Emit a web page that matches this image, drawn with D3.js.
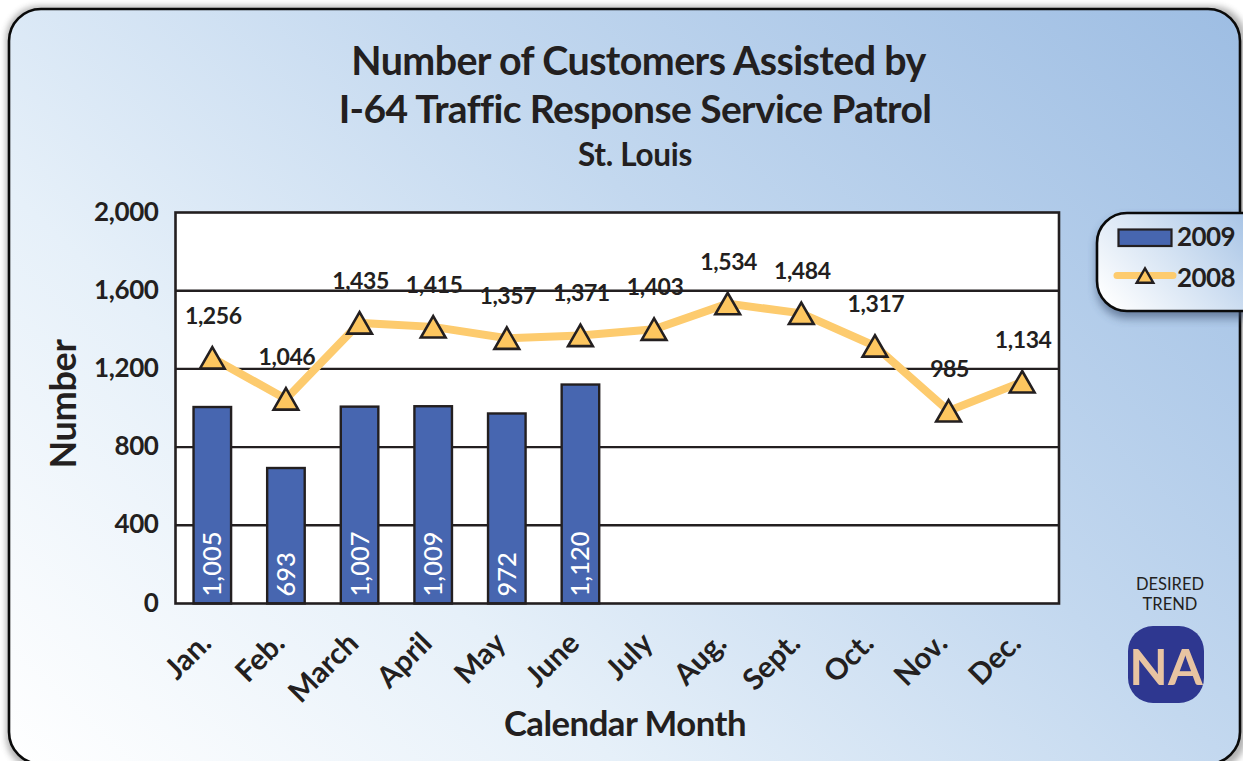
<!DOCTYPE html>
<html><head><meta charset="utf-8">
<script src="https://cdn.jsdelivr.net/npm/d3@7/dist/d3.min.js"></script>
<style>
html,body{margin:0;padding:0;background:#fff;overflow:hidden}
svg{display:block}
text{font-family:"Lato","Open Sans",sans-serif;fill:#231f20}
</style></head><body>
<svg id="c" width="1243" height="761"></svg>
<script>
const months=["Jan.","Feb.","March","April","May","June","July","Aug.","Sept.","Oct.","Nov.","Dec."];
const values2009=[1005,693,1007,1009,972,1120];
const values2008=[1256,1046,1435,1415,1357,1371,1403,1534,1484,1317,985,1134];
const yTicks=[0,400,800,1200,1600,2000];
const titleLines=["Number of Customers Assisted by","I-64 Traffic Response Service Patrol"];
const subtitle="St. Louis";
const xTitle="Calendar Month", yTitle="Number";
const legendLabels=["2009","2008"];
const trendLabels=["DESIRED","TREND"], trendValue="NA";

const svg=d3.select("#c");
const defs=svg.append("defs");
function grad(id,x1,y1,x2,y2,stops){
  const g=defs.append("linearGradient").attr("id",id).attr("gradientUnits","userSpaceOnUse")
   .attr("x1",x1).attr("y1",y1).attr("x2",x2).attr("y2",y2);
  stops.forEach(s=>g.append("stop").attr("offset",s[0]).attr("stop-color",s[1]));
}
grad("bg",150,900,1110,-120,[[0,"#ffffff"],[0.3,"#e6f0f9"],[0.6,"#c3d8ef"],[1,"#9dbde3"]]);
grad("lg",1110,310,1230,200,[[0,"#ffffff"],[0.5,"#d5e3f3"],[1,"#a9c5e6"]]);
const blur=defs.append("filter").attr("id","sh").attr("x","-20%").attr("y","-20%").attr("width","140%").attr("height","140%");
blur.append("feGaussianBlur").attr("stdDeviation",5);
const blur2=defs.append("filter").attr("id","sh2").attr("x","-5%").attr("y","-5%").attr("width","110%").attr("height","110%");
blur2.append("feGaussianBlur").attr("stdDeviation",3);

// panel
svg.append("rect").attr("x",6).attr("y",6).attr("width",1240).attr("height",764).attr("rx",33)
  .attr("fill","#555").attr("opacity",.45).attr("filter","url(#sh2)");
svg.append("rect").attr("x",9).attr("y",9).attr("width",1231).attr("height",755).attr("rx",32)
  .attr("fill","url(#bg)").attr("stroke","#0a0a0a").attr("stroke-width",2.6);

// titles
svg.append("text").attr("x",638.5).attr("y",75).attr("text-anchor","middle").attr("font-size",39.4).attr("font-weight",700).attr("letter-spacing",-.6).text(titleLines[0]);
svg.append("text").attr("x",635).attr("y",123).attr("text-anchor","middle").attr("font-size",39).attr("font-weight",700).attr("letter-spacing",-.6).text(titleLines[1]);
svg.append("text").attr("x",635).attr("y",166).attr("text-anchor","middle").attr("font-size",31.5).attr("font-weight",700).attr("letter-spacing",-.3).text(subtitle);

// plot
const L=175.5,R=1059,T=212.5,B=603.5;
const x=d3.scaleBand().domain(months).range([L,R]).paddingInner(0.49).paddingOuter(0.245);
const y=d3.scaleLinear().domain([0,2000]).range([B,T]);
const cx=m=>x(m)+x.bandwidth()/2;
const g=svg.append("g");
g.append("rect").attr("x",L).attr("y",T).attr("width",R-L).attr("height",B-T).attr("fill","#fff");
g.selectAll("line.grid").data(yTicks.filter(d=>d>0&&d<2000)).join("line").attr("class","grid")
  .attr("x1",L).attr("x2",R).attr("y1",d=>y(d)).attr("y2",d=>y(d)).attr("stroke","#231f20").attr("stroke-width",2.4);
// bars
g.selectAll("rect.bar").data(values2009).join("rect").attr("class","bar")
  .attr("x",(d,i)=>x(months[i])).attr("y",d=>y(d)).attr("width",x.bandwidth()).attr("height",d=>B-y(d))
  .attr("fill","#4766b0").attr("stroke","#231f20").attr("stroke-width",2.4);
// frame
g.append("rect").attr("x",L).attr("y",T).attr("width",R-L).attr("height",B-T).attr("fill","none").attr("stroke","#231f20").attr("stroke-width",2.6);
// bar labels
g.selectAll("text.barl").data(values2009).join("text").attr("class","barl")
  .attr("transform",(d,i)=>`translate(${cx(months[i])+9},${B-7}) rotate(-90)`)
  .attr("font-size",25.5).attr("font-weight",500).style("fill","#fff").text(d=>d3.format(",")(d));
// line
const line=d3.line().x((d,i)=>cx(months[i])).y(d=>y(d));
g.append("path").attr("d",line(values2008)).attr("fill","none").attr("stroke","#fdcb6e").attr("stroke-width",8);
const tri=d3.symbol().type(d3.symbolTriangle).size(265);
g.selectAll("path.pt").data(values2008).join("path").attr("class","pt")
  .attr("transform",(d,i)=>`translate(${cx(months[i])},${y(d)+3.5})`).attr("d",tri)
  .attr("fill","#fdc65f").attr("stroke","#231f20").attr("stroke-width",2.6).attr("stroke-linejoin","miter");
g.selectAll("text.vl").data(values2008).join("text").attr("class","vl")
  .attr("x",(d,i)=>cx(months[i])+1).attr("y",d=>y(d)-34).attr("text-anchor","middle")
  .attr("font-size",23).attr("font-weight",700).attr("letter-spacing",-.4).text(d=>d3.format(",")(d));

// axes
g.selectAll("text.yt").data(yTicks).join("text").attr("class","yt").attr("x",158.5).attr("y",d=>y(d)+8)
  .attr("text-anchor","end").attr("font-size",26).attr("font-weight",700).attr("letter-spacing",-.4).text(d=>d3.format(",")(d));
g.selectAll("text.xt").data(months).join("text").attr("class","xt")
  .attr("transform",m=>`translate(${cx(m)-14},${B+27}) rotate(-45)`).attr("text-anchor","end").attr("dy","0.7em")
  .attr("font-size",29.5).attr("font-weight",700).attr("letter-spacing",0).text(d=>d);
svg.append("text").attr("x",625).attr("y",736).attr("text-anchor","middle").attr("font-size",34.7).attr("font-weight",700).attr("letter-spacing",-.5).text(xTitle);
svg.append("text").attr("transform","translate(76,404) rotate(-90)").attr("text-anchor","middle").attr("font-size",36).attr("font-weight",700).attr("letter-spacing",-.3).text(yTitle);

// legend
svg.append("rect").attr("x",1097).attr("y",218).attr("width",190).attr("height",100).attr("rx",30).attr("fill","#34486b").attr("opacity",.6).attr("filter","url(#sh)");
svg.append("rect").attr("x",1097).attr("y",213).attr("width",190).attr("height",98).attr("rx",30).attr("fill","url(#lg)").attr("stroke","#0a0a0a").attr("stroke-width",2.6);
svg.append("rect").attr("x",1118.5).attr("y",229.5).attr("width",53).attr("height",16.5).attr("fill","#4766b0").attr("stroke","#231f20").attr("stroke-width",2.2);
svg.append("line").attr("x1",1117).attr("x2",1173).attr("y1",275.5).attr("y2",275.5).attr("stroke","#fdcb6e").attr("stroke-width",7).attr("stroke-linecap","round");
svg.append("path").attr("transform","translate(1145,278)").attr("d",d3.symbol().type(d3.symbolTriangle).size(120))
  .attr("fill","#fdc65f").attr("stroke","#231f20").attr("stroke-width",2.4);
legendLabels.forEach((t,i)=>svg.append("text").attr("x",1177).attr("y",[246,287][i]).attr("font-size",26).attr("font-weight",700).attr("letter-spacing",-.6).text(t));

// desired trend
trendLabels.forEach((t,i)=>svg.append("text").attr("x",1170).attr("y",590+i*20).attr("text-anchor","middle").attr("font-size",16.5).attr("font-weight",400).text(t));
svg.append("rect").attr("x",1128).attr("y",626).attr("width",76).attr("height",77).attr("rx",25).attr("fill","#2e3790");
svg.append("text").attr("x",1166).attr("y",685).attr("text-anchor","middle").attr("font-size",50).attr("font-weight",700).style("fill","#e8c4a2").text(trendValue);
</script></body></html>
